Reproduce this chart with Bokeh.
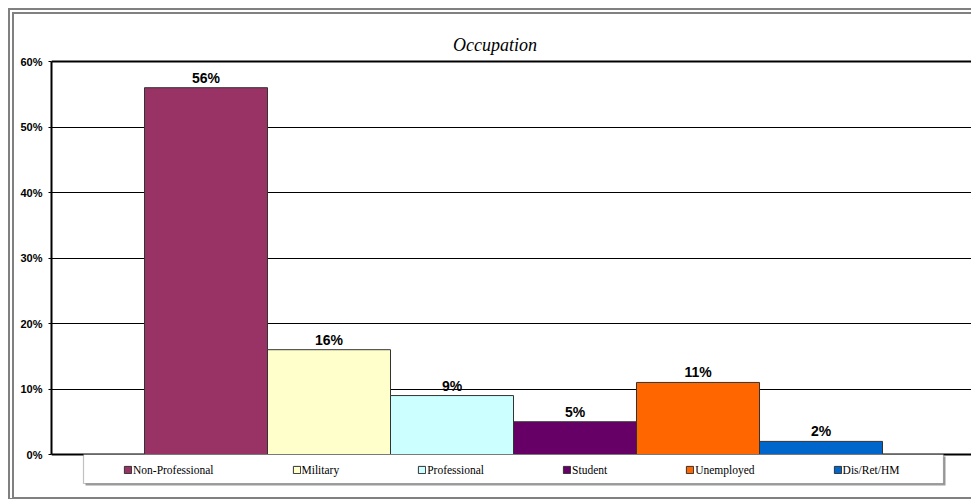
from bokeh.plotting import figure
from bokeh.models import (ColumnDataSource, Range1d, FixedTicker, PrintfTickFormatter,
                          BoxAnnotation, Label, Legend, LegendItem, Grid)
from bokeh.embed import file_html
from bokeh.resources import INLINE
from bokeh.core.properties import value

# ---- data ----
title_text = "Occupation"
categories = ["Non-Professional", "Military", "Professional", "Student", "Unemployed", "Dis/Ret/HM"]
percents = [56, 16, 9, 5, 11, 2]
colors = ["#993366", "#FFFFCC", "#CCFFFF", "#660066", "#FF6600", "#0066CC"]
y_ticks = [0, 10, 20, 30, 40, 50, 60]

# ---- layout (page px) ----
CANVAS_X, CANVAS_Y = 14, 14          # canvas origin on page (after css margin + border)
W, H = 963, 491                       # host box (border-box); canvas gets this size
FRAME_L = 51                          # page x of plot-area left (y axis)
Y_TOP_PX, Y_ZERO_PX = 61, 454         # page y of top tick and of zero
BAR0_LEFT_PX, BAR_W_PX = 144, 123

frame_bottom_page = CANVAS_Y + H
frame_top_page = CANVAS_Y
px_per_unit_y = (Y_ZERO_PX - Y_TOP_PX) / (y_ticks[-1] - y_ticks[0])
y_start = y_ticks[0] - (frame_bottom_page - Y_ZERO_PX) / px_per_unit_y
y_end = y_ticks[-1] + (Y_TOP_PX - frame_top_page) / px_per_unit_y
frame_w = CANVAS_X + W - FRAME_L
x_start = -0.5 - (BAR0_LEFT_PX - FRAME_L) / BAR_W_PX
x_end = x_start + frame_w / BAR_W_PX

def sx(page_x):
    return page_x - FRAME_L

def sy(page_y):
    return frame_bottom_page - page_y

src = ColumnDataSource(dict(
    x=list(range(len(categories))),
    pct=percents,
    color=colors,
    cat=categories,
    label=[f"{v}%" for v in percents],
))

p = figure(width=W, height=H, output_backend="svg", toolbar_location=None,
           x_range=Range1d(x_start, x_end), y_range=Range1d(y_start, y_end),
           min_border_left=FRAME_L - CANVAS_X, min_border_right=0,
           min_border_top=0, min_border_bottom=0,
           styles={"box-sizing": "border-box",
                   "overflow": "hidden",
                   "margin": "8px 0 0 8px",
                   "border-left": "6px double #808080",
                   "border-top": "6px double #808080",
                   "border-bottom": "2px solid #808080"})
p.outline_line_color = None
p.background_fill_color = "white"
p.border_fill_color = "white"

# grid
p.xgrid.visible = False
p.xaxis.visible = False
p.ygrid.ticker = FixedTicker(ticks=y_ticks)
p.ygrid.grid_line_color = "black"
p.ygrid.grid_line_width = 1
p.add_layout(Grid(dimension=1, ticker=FixedTicker(ticks=[y_ticks[0], y_ticks[-1]]),
                  grid_line_color="black", grid_line_width=2))

# y axis
p.yaxis.bounds = (y_ticks[0], y_ticks[-1])
p.yaxis.ticker = FixedTicker(ticks=y_ticks)
p.yaxis.formatter = PrintfTickFormatter(format="%d%%")
p.yaxis.major_tick_out = 3
p.yaxis.major_tick_in = 0
p.yaxis.minor_tick_line_color = None
p.yaxis.axis_line_color = "black"
p.yaxis.axis_line_width = 2
p.yaxis.major_tick_line_color = "black"
p.yaxis.major_label_text_font = "Liberation Sans"
p.yaxis.major_label_text_font_style = "bold"
p.yaxis.major_label_text_font_size = "11px"
p.yaxis.major_label_text_color = "black"
p.yaxis.major_label_standoff = 6

# bars
bars = p.vbar(x="x", top="pct", width=1, fill_color="color", line_color="#333333",
              line_width=1, source=src)

# value labels
p.text(x="x", y="pct", text="label", text_align="center", text_baseline="middle",
       y_offset=-10, text_font=value("Liberation Sans"), text_font_style="bold",
       text_font_size="14px", text_color="black", source=src)

# title
p.add_layout(Label(x=sx(494.5), y=sy(44), x_units="screen", y_units="screen", text=title_text,
                   text_font="Liberation Serif", text_font_style="italic",
                   text_font_size="18px", text_align="center", text_baseline="middle",
                   text_color="black"))

# legend box (with light shadow)
p.add_layout(BoxAnnotation(left=sx(85), right=sx(945), top=sy(456), bottom=sy(485),
                           left_units="screen", right_units="screen",
                           top_units="screen", bottom_units="screen",
                           fill_color="#9a9a9a", fill_alpha=1, line_color=None))
p.add_layout(BoxAnnotation(left=sx(83), right=sx(943), top=sy(454), bottom=sy(483),
                           left_units="screen", right_units="screen",
                           top_units="screen", bottom_units="screen",
                           fill_color="white", fill_alpha=1,
                           line_color="#333333", line_width=1.2))

items = [LegendItem(label=c, renderers=[bars], index=i) for i, c in enumerate(categories)]
legend = Legend(items=items, location=(sx(123), sy(476)), orientation="horizontal", spacing=78,
                padding=0, margin=0, border_line_color=None, background_fill_alpha=0,
                glyph_width=9, glyph_height=9, label_standoff=1, label_height=13,
                label_text_font="Liberation Serif", label_text_font_size="11.5px",
                label_text_color="black")
p.add_layout(legend, "center")

open("out.html", "w").write(file_html(p, INLINE))
